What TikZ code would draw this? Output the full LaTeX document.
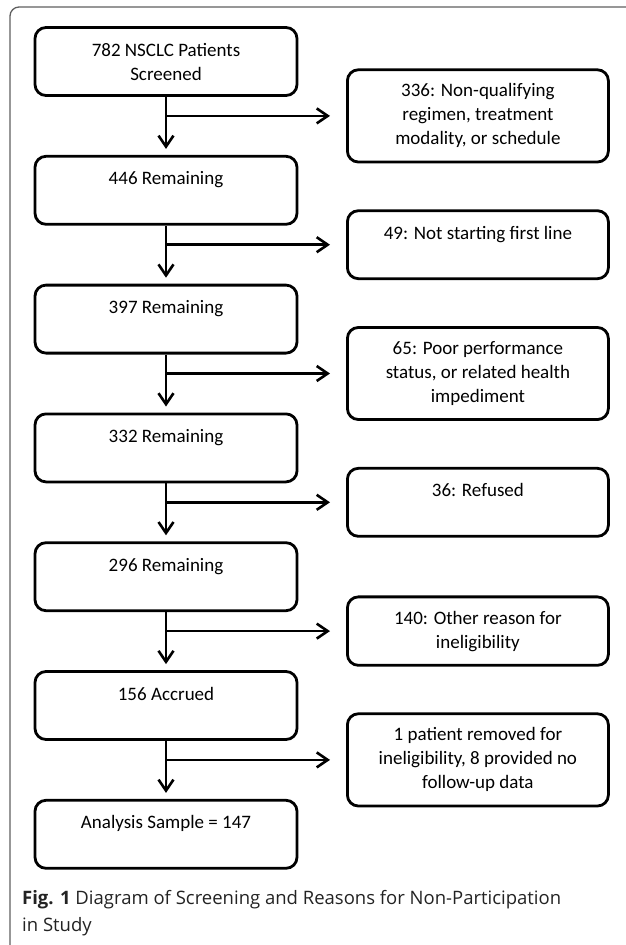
\documentclass[tikz,border=0pt]{standalone}
\usepackage{fontspec}
\setmainfont{Carlito}
\newfontfamily\captionfont{Open Sans}
\usepackage{tikz}
\definecolor{framegray}{RGB}{95, 95, 95}
\definecolor{captiongray}{RGB}{35, 35, 35}
\usetikzlibrary{arrows.meta, positioning}

\begin{document}
\begin{tikzpicture}[
    x=1pt, y=-1pt,
    node distance=58pt,
    stage/.style={rectangle, draw, line width=2.8pt, rounded corners=11pt,
                minimum width=262pt, minimum height=68pt, align=center,
                inner xsep=10pt, inner ysep=11.5pt,
                font=\fontsize{19}{24}\selectfont},
    excluded/.style={stage, minimum width=261pt, inner ysep=14pt},
    arrow/.style={-{Straight Barb[length=11pt, width=15pt]}, line width=2.6pt}
]
    \useasboundingbox (0,0) rectangle (625,945);
    \draw[framegray, line width=1.3pt, rounded corners=9pt]
        (640,7) -- (10,7) -- (10,956) -- (40,956);

    \node[stage] (screened) at (166,61.5) {782 NSCLC Patients\\Screened};
    \node[stage, below=of screened] (rem446) {446 Remaining\\~};
    \node[stage, below=of rem446] (rem397) {397 Remaining\\~};
    \node[stage, below=of rem397] (rem332) {332 Remaining\\~};
    \node[stage, below=of rem332] (rem296) {296 Remaining\\~};
    \node[stage, below=of rem296] (accrued) {156 Accrued\\~};
    \node[stage, below=of accrued] (sample) {Analysis Sample = 147\\~};

    % branch points on the main line
    \coordinate[below=19pt of screened] (b1);
    \coordinate[below=19pt of rem446] (b2);
    \coordinate[below=19pt of rem397] (b3);
    \coordinate[below=19pt of rem332] (b4);
    \coordinate[below=19pt of rem296] (b5);
    \coordinate[below=19pt of accrued] (b6);

    \node[excluded, right=180pt of b1] (regimen) {336: Non-qualifying\\regimen, treatment\\modality, or schedule};
    \node[excluded, right=180pt of b2] (firstline) {49: Not starting first line\\~};
    \node[excluded, right=180pt of b3] (perform) {65: Poor performance\\status, or related health\\impediment};
    \node[excluded, right=180pt of b4] (refused) {36: Refused\\~};
    \node[excluded, right=180pt of b5] (other) {140: Other reason for\\ineligibility};
    \node[excluded, right=180pt of b6] (removed) {1 patient removed for\\ineligibility, 8 provided no\\follow-up data};

    \draw[arrow, shorten >=6pt] (screened) -- (rem446);
    \draw[arrow, shorten >=6pt] (rem446) -- (rem397);
    \draw[arrow, shorten >=6pt] (rem397) -- (rem332);
    \draw[arrow, shorten >=6pt] (rem332) -- (rem296);
    \draw[arrow, shorten >=6pt] (rem296) -- (accrued);
    \draw[arrow, shorten >=6pt] (accrued) -- (sample);

    \draw[arrow, shorten >=16pt] (b1) -- (regimen);
    \draw[arrow, shorten >=16pt] (b2) -- (firstline);
    \draw[arrow, shorten >=16pt] (b3) -- (perform);
    \draw[arrow, shorten >=16pt] (b4) -- (refused);
    \draw[arrow, shorten >=16pt] (b5) -- (other);
    \draw[arrow, shorten >=16pt] (b6) -- (removed);

    \node[anchor=north west, align=left, inner sep=0pt, text=captiongray,
          font=\captionfont\fontsize{18.5}{27}\selectfont] (caption) at (22,890)
        {\textbf{Fig. 1} Diagram of Screening and Reasons for Non-Participation\\in Study};
\end{tikzpicture}
\end{document}
